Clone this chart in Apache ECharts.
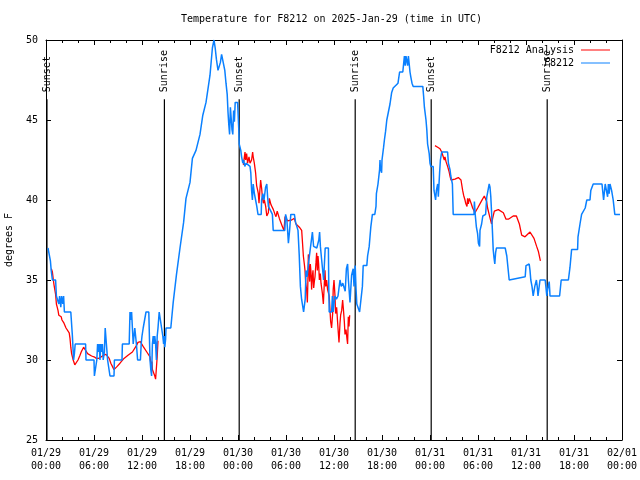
<!DOCTYPE html>
<html><head><meta charset="utf-8">
<script src="https://cdn.jsdelivr.net/npm/echarts@6/dist/echarts.min.js"></script>
<style>html,body{margin:0;padding:0;background:#fff}#c{width:640px;height:480px}</style>
</head><body><div id="c"></div>
<script>
const FONT = 'DejaVu Sans Mono';
const titleText = 'Temperature for F8212 on 2025-Jan-29 (time in UTC)';
const xTickLabels = ['01/29\n00:00','01/29\n06:00','01/29\n12:00','01/29\n18:00','01/30\n00:00','01/30\n06:00','01/30\n12:00','01/30\n18:00','01/31\n00:00','01/31\n06:00','01/31\n12:00','01/31\n18:00','02/01\n00:00'];
const eventHours = [0.12, 14.8, 24.15, 38.65, 48.15, 62.65];
const eventNames = ['Sunset','Sunrise','Sunset','Sunrise','Sunset','Sunrise'];
const eventLineTop = 46.3;

// hours since 01/29 00:00 UTC, degrees F
const station = [
[0.25,37],[0.4,36.6],[0.55,36.2],[0.65,35.6],[0.8,35],[1.2,35],[1.3,34],[1.45,34],[1.6,33.5],[1.7,34],[1.85,33.3],[1.95,34],[2.1,33.5],[2.2,34],[2.3,33],[3.1,33],[3.3,31.5],[3.45,30],[3.55,30.4],[3.65,31],[4.95,31],[5.0,30],[6.0,30],[6.05,29],[6.3,29],[6.35,30],[6.45,31],[6.55,30.5],[6.65,31],[6.75,30],[6.85,31],[6.95,30.5],[7.05,31],[7.15,30],[7.3,30.5],[7.4,32],[7.55,31],[7.7,30],[7.9,30],[8.0,29],[8.5,29],[8.55,30],[9.5,30],[9.55,31],[10.4,31],[10.5,33],[10.6,32.5],[10.7,33],[10.8,32],[10.9,31],[11.0,31.5],[11.1,32],[11.2,31.5],[11.3,31],[11.45,30],[11.8,30],[11.9,31],[12.0,31.5],[12.15,32],[12.4,32],[12.5,33],[12.85,33],[12.95,31],[13.0,30],[13.1,29.4],[13.2,29],[13.25,30],[13.3,31],[13.4,31.5],[13.5,31],[13.6,31.5],[13.7,31],[13.8,30],[13.9,31.5],[14.0,32],[14.15,33],[14.3,32.5],[14.45,32],[14.6,31.5],[14.7,31],[14.8,31.5],[14.85,30.8],[14.95,31.3],[15.0,32],[15.6,32],
[15.9,33.6],[16.3,35.3],[16.75,37],[17.2,38.6],[17.5,40.1],[18.0,41.1],[18.3,42.6],[18.75,43.1],[19.25,44.1],[19.6,45.3],[20.0,46.1],[20.5,47.8],[20.8,49.5],[21.0,50],[21.15,49.5],[21.3,48.8],[21.5,48.1],[21.7,48.1],[21.8,48.6],[21.95,49.1],[22.2,49.1],[22.35,48.1],[22.5,47.3],[22.65,46.6],[22.75,45.5],[22.85,44.7],[22.95,44.1],[23.05,45.8],[23.15,45.8],[23.25,44.4],[23.35,44.1],[23.45,45.6],[23.55,44.9],[23.65,46.1],[23.95,46.1],
[24.1,44.4],[24.15,43.5],[24.3,43.5],[24.35,43.1],[24.45,42.7],[24.6,42.3],[24.7,42.5],[24.85,42.1],[25.0,42.3],[25.5,42.1],[25.6,41.7],[25.7,40.6],[25.8,40],[25.9,41],[26.05,40.4],[26.2,40],[26.35,39.6],[26.5,39.1],[26.9,39.1],[26.95,40],[27.1,40.4],[27.25,40],[27.45,40.8],[27.6,41],[27.7,40.2],[27.8,39.6],[28.0,39.5],[28.3,39.1],[28.4,38.1],[29.85,38.1],[29.95,39.1],[30.1,38.8],[30.2,38.1],[30.3,37.3],[30.45,38.1],[30.6,39.1],[31.05,39.1],[31.2,38.6],[31.5,38.1],[31.65,36.6],[31.8,34.6],[31.95,33.8],[32.2,33],[32.4,33.8],[32.5,35.6],[32.65,35.2],[32.8,36],[32.9,36.4],[33.1,36.4],[33.3,38],[33.45,37.1],[33.6,37],[33.85,37],[34.1,37.5],[34.2,38],[34.3,37.1],[34.45,36.3],[34.7,35],[34.8,36],[34.9,37],[35.3,37],[35.35,34.5],[35.4,33],[35.7,33],[35.8,34],[35.9,33],[36.1,34],[36.3,33.8],[36.5,34],[36.75,35],[36.9,34.6],[37.1,34.8],[37.4,34.3],[37.55,35.7],[37.7,36],[37.8,35],[38.0,33.6],[38.2,35.3],[38.4,35.7],[38.5,34.6],[38.65,35.9],[38.75,34.5],[38.85,33.5],[39.2,33],[39.45,33],[39.55,34.6],[39.65,35.9],[40.1,35.9],
[40.2,36.5],[40.4,37.1],[40.5,37.7],[40.6,38.3],[40.8,39.1],[41.1,39.1],[41.25,39.6],[41.3,40.4],[41.5,41],[41.7,41.9],[41.75,42.5],[41.8,42],[41.95,41.7],[42.0,42.5],[42.2,43.3],[42.3,43.75],[42.45,44.3],[42.6,45],[42.8,45.5],[43.0,46],[43.2,46.7],[43.4,47],[44.0,47.3],[44.2,48],[44.6,48],[44.7,48.5],[44.8,49],[44.9,48.4],[45.0,49],[45.2,48.4],[45.3,49],[45.4,48.5],[45.5,48],[45.6,47.7],[45.75,47.3],[45.9,47.1],[47.1,47.1],[47.2,46.5],[47.3,45.8],[47.5,45],[47.6,44.4],[47.7,43.5],[47.9,42.9],[48.0,42.3],[48.1,42.1],[48.4,42.1],[48.5,40.6],[48.7,40],[48.8,40.6],[48.96,41],[49.04,40.2],[49.2,41.7],[49.3,42.5],[49.46,43],[50.2,43],[50.3,42.3],[50.5,41.9],[50.6,41.5],[50.8,41],[50.9,39.1],[53.5,39.1],[53.55,39.9],[53.65,39.1],[53.8,38.3],[53.95,37.9],[54.05,37.3],[54.2,37.1],[54.25,38.1],[54.45,38.5],[54.6,39],[54.95,39.1],[55.1,40.2],[55.2,40.2],[55.4,41],[55.5,40.8],[55.6,40.2],[55.7,39.2],[55.8,38.1],[55.9,36.9],[56.0,36.4],[56.1,36],[56.2,36.7],[56.3,37],[57.4,37],[57.6,36.5],[57.7,36],[57.9,35],[59.9,35.2],[60.0,35.9],[60.4,36],[60.5,35.6],[60.6,35],[60.75,34.6],[60.9,34],[61.0,34],[61.1,34.6],[61.3,35],[61.4,34.6],[61.5,34],[61.7,34],[61.75,35],[62.4,35],[62.6,34],[62.7,34.4],[62.9,34.9],[62.96,34.4],[63.0,34],[64.2,34],[64.4,35],[65.3,35],[65.5,35.8],[65.7,36.9],[66.45,36.9],[66.5,37.7],[66.75,38.5],[66.95,39.1],[67.4,39.5],[67.6,40],[68.0,40],[68.1,40.6],[68.4,41],[69.5,41],[69.7,40],[69.9,41],[70.1,41],[70.2,40.2],[70.3,41],[70.4,40.4],[70.5,41],[70.7,40.6],[70.9,40],[71.1,39.1],[71.75,39.1]
];

const analysisNight1 = [
[0.67,35.7],[0.8,35.5],[0.92,35],[1.0,34.7],[1.1,34.4],[1.2,34.1],[1.3,33.5],[1.4,33.3],[1.5,33.1],[1.6,32.8],[1.9,32.7],[2.0,32.5],[2.25,32.3],[2.5,32],[2.75,31.9],[2.9,31.7],[3.0,31.35],[3.1,30.8],[3.2,30.4],[3.4,30],[3.6,29.7],[3.8,29.6],[4.0,30],[4.25,30.3],[4.4,30.5],[4.7,30.8],[4.8,30.75],[5.2,30.4],[5.7,30.25],[6.0,30.2],[6.3,30.1],[6.6,30.1],[6.8,30.2],[7.2,30.3],[7.5,30.35],[7.7,30.25],[7.9,30.1],[8.1,29.8],[8.3,29.6],[8.5,29.4],[8.75,29.4],[8.9,29.6],[9.25,29.8],[9.4,29.9],[9.75,30.1],[10.25,30.3],[10.8,30.5],[11.0,30.6],[11.3,30.9],[11.5,31.1],[11.8,31.15],[12.2,30.8],[12.6,30.5],[12.8,30.4],[13.0,30.2],[13.1,29.8],[13.2,29.6],[13.25,29.9],[13.3,29.4],[13.6,29],[13.7,28.8],[13.8,28.8],[13.9,30.2],[14.0,31.2]
];
const analysisNight2 = [
[24.67,42.2],[24.79,42.3],[24.875,43],[24.96,42.5],[25.08,42.9],[25.2,42.3],[25.375,42.7],[25.5,42.3],[25.7,42.5],[25.83,43],[25.9,42.7],[26.04,42.3],[26.2,41.7],[26.33,40.9],[26.46,40.6],[26.54,40.4],[26.625,39.8],[26.75,40.7],[26.83,41.25],[26.96,40.7],[27.04,40.2],[27.17,39.8],[27.29,40],[27.46,39.6],[27.6,39],[27.79,39.2],[27.92,40.1],[28.125,39.7],[28.42,39.4],[28.625,39.1],[28.75,38.96],[28.9,39.3],[29.04,39.4],[29.17,38.85],[29.33,38.75],[29.58,38.3],[29.75,38.1],[29.875,38.96],[30.2,38.7],[30.7,38.75],[31.04,38.85],[31.25,38.5],[31.67,38.3],[31.875,38.4],[31.96,38.1],[32.08,37.2],[32.17,36.5],[32.29,36],[32.375,35.6],[32.46,34.8],[32.58,34.4],[32.67,33.6],[32.75,35.2],[32.79,36.6],[32.875,35.8],[32.96,34.9],[33.04,36],[33.125,35.5],[33.2,34.4],[33.29,35.2],[33.375,35.6],[33.46,34.5],[33.54,34.9],[33.625,35.2],[33.75,36.1],[33.83,36.7],[33.92,35.6],[34.0,36.5],[34.08,36],[34.17,35],[34.29,35.4],[34.375,34.8],[34.54,34.2],[34.67,33.5],[34.79,34.8],[34.875,35.6],[34.96,34.6],[35.08,35],[35.2,34.4],[35.4,34],[35.58,32.4],[35.7,32],[35.83,32.9],[35.9,34.4],[36.0,35],[36.125,34],[36.2,32.9],[36.33,33.3],[36.46,32.3],[36.54,31.7],[36.625,31.1],[36.75,32.3],[36.83,32.8],[36.96,33.1],[37.08,33.75],[37.17,33.2],[37.29,32.4],[37.375,31.6],[37.5,31.9],[37.625,31.3],[37.7,31],[37.79,32.7],[37.875,32.1],[37.96,32.8]
];
const analysisNight3 = [
[48.625,43.4],[48.96,43.3],[49.25,43.2],[49.46,43],[49.67,42.9],[49.79,42.5],[49.875,42.7],[50.0,42.4],[50.2,42.1],[50.375,41.8],[50.5,41.5],[50.625,41.25],[51.125,41.3],[51.54,41.4],[51.75,41.4],[51.875,41.25],[52.08,40.6],[52.2,40.3],[52.375,40],[52.46,39.8],[52.54,39.9],[52.625,39.6],[52.7,40.1],[52.79,39.75],[52.92,40.1],[53.08,40],[53.2,39.7],[53.33,39.5],[53.625,39.2],[53.75,39.1],[53.96,39.5],[54.125,39.6],[54.46,39.96],[54.79,40.25],[54.96,40.2],[55.08,39.9],[55.2,39.5],[55.46,38.96],[55.7,38.5],[55.83,38.85],[56.04,39.3],[56.54,39.4],[56.75,39.5],[57.17,39.2],[57.5,38.8],[57.8,38.8],[58.4,39],[58.8,39],[59.17,38.5],[59.46,37.8],[59.58,37.7],[59.875,37.7],[60.5,38],[60.7,38],[61.0,37.6],[61.33,37.1],[61.54,36.8],[61.8,36.2]
];

const RED = '#ff0000', BLUE = '#0a80ff';
const txt = {fontFamily: FONT, fontSize: 10, color: '#000'};

const series = [];
eventHours.forEach((h, i) => {
  series.push({
    type: 'line', silent: true, symbol: 'circle', symbolSize: 0.01, showSymbol: true,
    lineStyle: {color: '#000', width: 1.2}, itemStyle: {color: '#000'},
    data: [
      {value: [h, 25]},
      {value: [h, eventLineTop], label: {show: true, position: 'top', distance: 7, rotate: 90,
        align: 'left', verticalAlign: 'middle', formatter: eventNames[i], fontFamily: FONT, fontSize: 10, color: '#000'}}
    ],
    z: 1
  });
});
[analysisNight1, analysisNight2, analysisNight3].forEach(seg => {
  series.push({name: 'F8212 Analysis', type: 'line', symbol: 'none', data: seg,
    lineStyle: {color: RED, width: 1.3}, itemStyle: {color: RED}, z: 2});
});
series.push({name: 'F8212', type: 'line', symbol: 'none', data: station,
  lineStyle: {color: BLUE, width: 1.5}, itemStyle: {color: BLUE}, z: 3});

const xCommon = {
  type: 'value', min: 0, max: 72, interval: 6,
  axisLine: {show: true, onZero: false, lineStyle: {color: '#000', width: 1}},
  axisTick: {show: true, inside: true, length: 5, lineStyle: {color: '#000'}},
  minorTick: {show: true, splitNumber: 3, length: 3, lineStyle: {color: '#000'}},
  splitLine: {show: false}
};
const yCommon = {
  type: 'value', min: 25, max: 50, interval: 5,
  axisLine: {show: true, onZero: false, lineStyle: {color: '#000', width: 1}},
  axisTick: {show: true, inside: true, length: 5, lineStyle: {color: '#000'}},
  splitLine: {show: false}
};

const chart = echarts.init(document.getElementById('c'), null, {renderer: 'canvas'});
chart.setOption({
  animation: false,
  backgroundColor: '#fff',
  title: {text: titleText, left: 181, top: 14, padding: 0,
    textStyle: {fontFamily: FONT, fontSize: 10, fontWeight: 'normal', color: '#000'}},
  legend: {
    data: ['F8212 Analysis', 'F8212'], orient: 'vertical', align: 'right',
    right: 30, top: 45, padding: 0, itemGap: 3, itemWidth: 29, itemHeight: 10,
    textStyle: {fontFamily: FONT, fontSize: 10, color: '#000', padding: [0, 2, 0, 0]},
    icon: 'path://M0,5L29,5L29,6L0,6Z'
  },
  grid: {left: 46, right: 18, top: 40, bottom: 40, containLabel: false, outerBoundsMode: 'none'},
  xAxis: [
    Object.assign({}, xCommon, {position: 'bottom',
      axisLabel: Object.assign({}, txt, {margin: 7, lineHeight: 13,
        formatter: v => xTickLabels[Math.round(v / 6)]})}),
    Object.assign({}, xCommon, {position: 'top', axisLabel: {show: false}})
  ],
  yAxis: [
    Object.assign({}, yCommon, {position: 'left', name: 'degrees F', nameLocation: 'middle', nameGap: 32,
      nameRotate: 90, nameTextStyle: txt, axisLabel: Object.assign({}, txt, {margin: 8})}),
    Object.assign({}, yCommon, {position: 'right', axisLabel: {show: false}})
  ],
  series: series
});
</script></body></html>
